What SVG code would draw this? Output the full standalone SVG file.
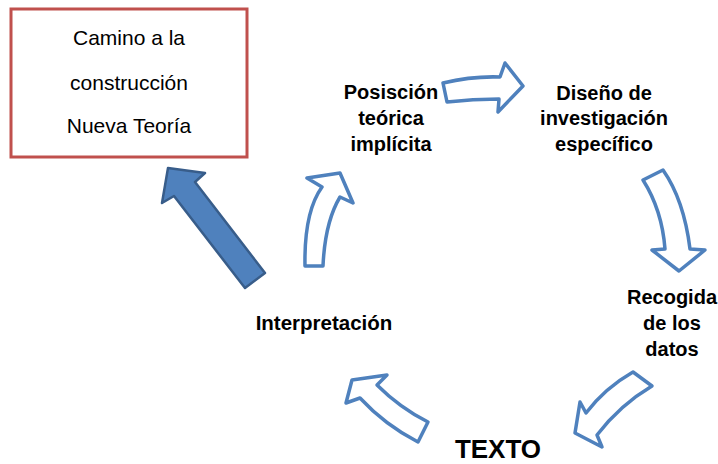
<svg xmlns="http://www.w3.org/2000/svg" width="718" height="464" viewBox="0 0 718 464">
<style>
.lbl{font-family:"Liberation Sans",Arial,sans-serif;font-weight:bold;font-size:20px;fill:#000;text-anchor:middle}
.box{font-family:"Liberation Sans",Arial,sans-serif;font-size:21px;fill:#000;text-anchor:middle}
.oarrow{fill:#fff;stroke:#4F81BD;stroke-width:3.5;stroke-linejoin:round}
.farrow{fill:#4F81BD;stroke:#385D8A;stroke-width:2.5;stroke-linejoin:round}
</style>
<rect width="718" height="464" fill="#fff"/>
<g id="nueva-teoria">
<rect x="11" y="9" width="236" height="148" fill="#fff" stroke="#C0504D" stroke-width="3"/>
<text class="box" x="129" y="45">Camino a la</text>
<text class="box" x="129" y="90">construcción</text>
<text class="box" x="129" y="133">Nueva Teoría</text>
</g>
<g id="posicion">
<text class="lbl" x="391" y="99">Posisción</text>
<text class="lbl" x="391" y="125">teórica</text>
<text class="lbl" x="391" y="151">implícita</text>
</g>
<g id="diseno">
<text class="lbl" x="604" y="100">Diseño de</text>
<text class="lbl" x="604" y="125">investigación</text>
<text class="lbl" x="604" y="151">específico</text>
</g>
<g id="recogida">
<text class="lbl" x="672" y="304">Recogida</text>
<text class="lbl" x="672" y="330">de los</text>
<text class="lbl" x="672" y="356">datos</text>
</g>
<g id="texto">
<text class="lbl" x="498" y="458" style="font-size:26px">TEXTO</text>
</g>
<g id="interpretacion">
<text class="lbl" x="324" y="330" style="font-size:20.5px">Interpretación</text>
</g>
<g id="connectors">
<path class="oarrow" d="M443,83 Q472,76 500,77 L505,63 L523,86 L498,112 L499,99 Q473,99 447,102 Z"/>
<path class="oarrow" d="M643,180 L663,170 Q684,200 690,249 L705,250 L679,271 L652,250 L665,249 Q662,210 643,180 Z"/>
<path class="oarrow" d="M633,372 L652,386 Q620,405 597,435 L602,447 L575,433 L580,402 L586,413 Q605,388 633,372 Z"/>
<path class="oarrow" d="M428,422 L418,442 Q385,425 360,398 L346,403 L352,380 L387,375 L377,385 Q400,408 428,422 Z"/>
<path class="oarrow" d="M305,266 Q304,212 322,187 L307,178 L340,173 L353,203 L340,197 Q325,222 323,266 Z"/>
<path class="farrow" d="M265,273 L245,288 L174,196 L162,203 L168,168 L205,173 L195,182 Z"/>
</g>
</svg>
